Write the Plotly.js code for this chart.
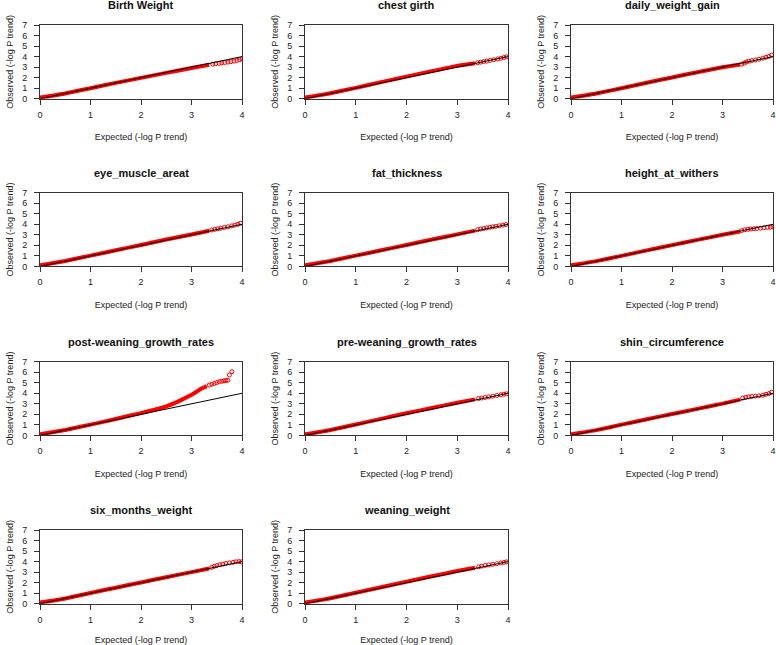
<!DOCTYPE html>
<html>
<head>
<meta charset="utf-8">
<script src="https://cdn.plot.ly/plotly-3.0.1.min.js"></script>
<style>
  html, body { margin: 0; padding: 0; background: #fff; }
  #qq { width: 776px; height: 645px; }
</style>
</head>
<body>
<div id="qq"></div>
<script>
// panel titles, one per trait
const traits = [
  "Birth Weight", "chest girth", "daily_weight_gain",
  "eye_muscle_areat", "fat_thickness", "height_at_withers",
  "post-weaning_growth_rates", "pre-weaning_growth_rates", "shin_circumference",
  "six_months_weight", "weaning_weight"
];

// expected -log10 P where the points form a solid band
const bandX = [0, 0.5, 1, 1.5, 2, 2.5, 3, 3.35];
const postBandX = [0, 0.5, 1, 1.5, 2, 2.25, 2.5, 2.75, 3, 3.1, 3.2, 3.3];

// observed values along the band, read per panel
const birthBandY   = [0.1, 0.5, 1.0, 1.5, 1.98, 2.45, 2.92, 3.22];
const chestBandY   = [0.1, 0.52, 1.03, 1.57, 2.1, 2.62, 3.12, 3.36];
const dailyBandY   = [0.1, 0.5, 1.0, 1.52, 2.02, 2.52, 2.98, 3.25];
const eyeBandY     = [0.1, 0.52, 1.02, 1.53, 2.04, 2.55, 3.03, 3.38];
const fatBandY     = [0.1, 0.52, 1.02, 1.53, 2.04, 2.55, 3.04, 3.4];
const heightBandY  = [0.1, 0.5, 1.0, 1.52, 2.02, 2.52, 3.0, 3.32];
const postBandY    = [0.1, 0.52, 1.02, 1.56, 2.12, 2.42, 2.75, 3.25, 3.85, 4.15, 4.45, 4.68];
const preBandY     = [0.1, 0.52, 1.04, 1.57, 2.1, 2.6, 3.1, 3.42];
const shinBandY    = [0.1, 0.5, 1.02, 1.53, 2.03, 2.52, 3.02, 3.4];
const sixBandY     = [0.1, 0.5, 1.02, 1.52, 2.02, 2.52, 3.0, 3.35];
const weaningBandY = [0.1, 0.52, 1.04, 1.56, 2.08, 2.6, 3.1, 3.42];

// sparse points in the upper tail
const birthTailX   = [3.42, 3.48, 3.55, 3.6, 3.66, 3.72, 3.78, 3.84, 3.9, 3.95, 4.0];
const birthTailY   = [3.28, 3.32, 3.36, 3.4, 3.44, 3.48, 3.52, 3.57, 3.63, 3.7, 3.78];
const chestTailX   = [3.4, 3.46, 3.52, 3.58, 3.65, 3.72, 3.8, 3.86, 3.92, 3.97];
const chestTailY   = [3.42, 3.47, 3.52, 3.57, 3.64, 3.7, 3.78, 3.84, 3.91, 3.98];
const dailyTailX   = [3.38, 3.43, 3.47, 3.52, 3.58, 3.65, 3.72, 3.8, 3.86, 3.92, 3.97];
const dailyTailY   = [3.28, 3.38, 3.48, 3.56, 3.62, 3.68, 3.75, 3.85, 3.93, 4.02, 4.15];
const eyeTailX     = [3.4, 3.46, 3.52, 3.58, 3.65, 3.72, 3.8, 3.86, 3.92, 3.97];
const eyeTailY     = [3.46, 3.52, 3.57, 3.63, 3.7, 3.76, 3.85, 3.92, 4.0, 4.1];
const fatTailX     = [3.4, 3.46, 3.52, 3.58, 3.64, 3.7, 3.76, 3.83, 3.9, 3.96];
const fatTailY     = [3.48, 3.55, 3.6, 3.66, 3.72, 3.76, 3.8, 3.86, 3.92, 3.98];
const heightTailX  = [3.38, 3.44, 3.5, 3.56, 3.62, 3.68, 3.75, 3.82, 3.89, 3.95, 4.0];
const heightTailY  = [3.4, 3.48, 3.52, 3.55, 3.58, 3.6, 3.63, 3.67, 3.7, 3.72, 3.75];
const postTailX    = [3.35, 3.4, 3.45, 3.5, 3.55, 3.6, 3.64, 3.68, 3.72, 3.75, 3.8];
const postTailY    = [4.78, 4.85, 4.93, 5.02, 5.1, 5.15, 5.18, 5.21, 5.24, 5.74, 6.05];
const preTailX     = [3.42, 3.48, 3.55, 3.62, 3.7, 3.78, 3.86, 3.92, 3.97];
const preTailY     = [3.5, 3.55, 3.6, 3.66, 3.72, 3.79, 3.86, 3.91, 3.95];
const shinTailX    = [3.4, 3.46, 3.52, 3.58, 3.65, 3.72, 3.8, 3.86, 3.92, 3.97];
const shinTailY    = [3.55, 3.62, 3.66, 3.7, 3.73, 3.76, 3.82, 3.9, 3.98, 4.1];
const sixTailX     = [3.4, 3.45, 3.5, 3.56, 3.62, 3.68, 3.75, 3.82, 3.88, 3.94, 3.99];
const sixTailY     = [3.45, 3.55, 3.62, 3.7, 3.76, 3.82, 3.88, 3.93, 3.98, 4.0, 3.98];
const weaningTailX = [3.42, 3.48, 3.55, 3.62, 3.7, 3.78, 3.86, 3.92, 3.97];
const weaningTailY = [3.5, 3.57, 3.63, 3.68, 3.74, 3.8, 3.87, 3.92, 3.97];

// y = x reference line
const diagX = [0, 4];
const diagY = [0, 4];

const bandXs = [bandX, bandX, bandX, bandX, bandX, bandX,
  postBandX, bandX, bandX, bandX, bandX];
const bandYs = [birthBandY, chestBandY, dailyBandY, eyeBandY, fatBandY, heightBandY,
  postBandY, preBandY, shinBandY, sixBandY, weaningBandY];
const tailXs = [birthTailX, chestTailX, dailyTailX, eyeTailX, fatTailX, heightTailX,
  postTailX, preTailX, shinTailX, sixTailX, weaningTailX];
const tailYs = [birthTailY, chestTailY, dailyTailY, eyeTailY, fatTailY, heightTailY,
  postTailY, preTailY, shinTailY, sixTailY, weaningTailY];

const W = 776, H = 645;
const font = "Liberation Sans, Arial, sans-serif";
const colPx = [[40, 242], [305, 508], [571, 773]];
const rowTop = [25, 192.7, 361.7, 530];
const boxH = 73.7;

const data = [];
const layout = {
  width: W,
  height: H,
  margin: { l: 0, r: 0, t: 0, b: 0 },
  paper_bgcolor: "white",
  plot_bgcolor: "white",
  showlegend: false,
  font: { family: font, color: "#222" },
  annotations: [],
};

traits.forEach((name, i) => {
  const n = i + 1;
  const xa = n === 1 ? "x" : "x" + n;
  const ya = n === 1 ? "y" : "y" + n;
  const row = Math.floor(i / 3), col = i % 3;

  data.push({
    type: "scatter", mode: "lines", x: bandXs[i], y: bandYs[i],
    xaxis: xa, yaxis: ya, hoverinfo: "skip",
    line: { color: "#ff0000", width: 4, shape: "spline", smoothing: 0.4 },
  });
  data.push({
    type: "scatter", mode: "markers", x: tailXs[i], y: tailYs[i],
    xaxis: xa, yaxis: ya,
    marker: { symbol: "circle-open", color: "#ff0000", size: 4, line: { width: 1 } },
  });
  data.push({
    type: "scatter", mode: "lines", x: diagX, y: diagY,
    xaxis: xa, yaxis: ya, hoverinfo: "skip",
    line: { color: "black", width: 1 },
  });

  const xd = [colPx[col][0] / W, colPx[col][1] / W];
  const yd = [1 - (rowTop[row] + boxH) / H, 1 - rowTop[row] / H];
  const common = {
    showgrid: false, zeroline: false,
    showline: true, mirror: true, linecolor: "#333", linewidth: 1,
    ticks: "outside", ticklen: 5, tickcolor: "#333",
    tickfont: { family: font, size: 9, color: "#222" },
  };
  layout["xaxis" + (n === 1 ? "" : n)] = Object.assign({}, common, {
    domain: xd, anchor: ya, range: [0, 4], tickvals: [0, 1, 2, 3, 4],
    ticklabelstandoff: 2,
    title: { text: "Expected (-log P trend)", font: { size: 9, family: font }, standoff: 15 },
  });
  layout["yaxis" + (n === 1 ? "" : n)] = Object.assign({}, common, {
    domain: yd, anchor: xa, range: [0, 7], tickvals: [0, 1, 2, 3, 4, 5, 6, 7],
    ticklabelstandoff: 5,
    title: { text: "Observed (-log P trend)", font: { size: 9, family: font }, standoff: 7 },
  });
  layout.annotations.push({
    xref: "paper", yref: "paper",
    x: (xd[0] + xd[1]) / 2, y: 1 - (rowTop[row] - 20) / H,
    xanchor: "center", yanchor: "middle", showarrow: false,
    text: "<b>" + name + "</b>",
    font: { family: font, size: 11, color: "#111" },
  });
});

Plotly.newPlot("qq", data, layout, { staticPlot: true });
</script>
</body>
</html>
